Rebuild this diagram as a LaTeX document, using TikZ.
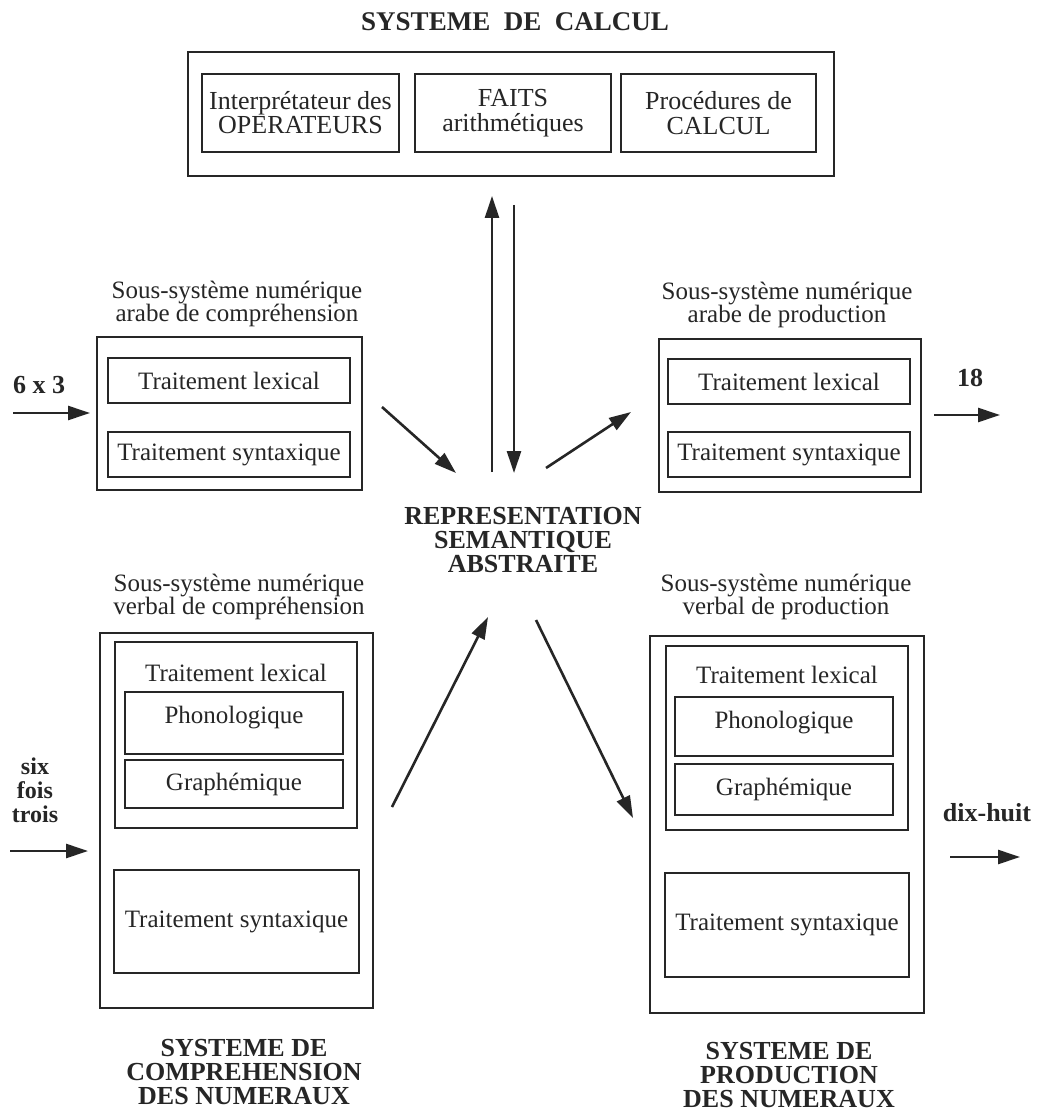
\documentclass[tikz,border=0pt]{standalone}
\usepackage{fontspec}
\setmainfont{Liberation Serif}
\usetikzlibrary{arrows.meta}
\definecolor{ink}{HTML}{262626}
\newcommand\regfont{\fontsize{12.5}{11.5}\selectfont}
\newcommand\boldfont{\fontsize{13}{12.2}\selectfont\bfseries}
\begin{document}
\begin{tikzpicture}[x=0.5pt,y=-0.5pt,
  box/.style={draw=ink, line width=1.3pt, inner sep=0pt, align=center, font=\regfont, text=ink},
  lbl/.style={align=center, font=\regfont, text=ink, inner sep=0pt},
  blbl/.style={align=center, font=\boldfont, text=ink, inner sep=0pt},
  arr/.style={draw=ink, line width=1.3pt, -{Triangle[length=11pt,width=7pt]}}]
\useasboundingbox (0,0) rectangle (1037,1112);
\fill[white] (0,0) rectangle (1037,1112);

% ---- Systeme de calcul
\node[blbl, font=\fontsize{13.5}{13}\selectfont\bfseries] (tcalc) at (515,22) {SYSTEME\hspace{0.5em}DE\hspace{0.5em}CALCUL};
\node[box, minimum width=323pt, minimum height=62pt] (calc) at (511,114) {};
\node[box, font=\fontsize{13}{12}\selectfont, minimum width=98.5pt, minimum height=39pt] (interp) at (300.5,113) {Interprétateur des\\OPERATEURS};
\node[box, font=\fontsize{13}{12.5}\selectfont, minimum width=98pt, minimum height=39pt] (faits) at (513,113) {FAITS\\arithmétiques};
\node[box, font=\fontsize{13}{12.5}\selectfont, minimum width=97.5pt, minimum height=39pt] (proc) at (718.5,113) {Procédures de\\CALCUL};

% ---- Representation semantique abstraite
\node[blbl, font=\fontsize{13}{12}\selectfont\bfseries] (rsa) at (523,540) {REPRESENTATION\\SEMANTIQUE\\ABSTRAITE};

% ---- arabe comprehension
\node[lbl] (lAC) at (237,304) {Sous-système numérique\\arabe de compréhension};
\node[box, minimum width=132.5pt, minimum height=76.5pt] (AC) at (229.5,413.5) {};
\node[box, minimum width=121pt, minimum height=22.5pt] (AClex) at (229,380.5) {Traitement lexical};
\node[box, minimum width=121pt, minimum height=22.5pt] (ACsyn) at (229,454.5) {Traitement syntaxique};
\node[blbl] (in1) at (39,385) {6 x 3};

% ---- arabe production
\node[lbl] (lAP) at (787,305) {Sous-système numérique\\arabe de production};
\node[box, minimum width=131pt, minimum height=76.5pt] (AP) at (790,415.5) {};
\node[box, minimum width=121pt, minimum height=22.5pt] (APlex) at (789,381.5) {Traitement lexical};
\node[box, minimum width=121pt, minimum height=22.5pt] (APsyn) at (789,454.5) {Traitement syntaxique};
\node[blbl] (out1) at (970,378) {18};

% ---- verbal comprehension
\node[lbl] (lVC) at (239,597) {Sous-système numérique\\verbal de compréhension};
\node[box, minimum width=136.5pt, minimum height=187.5pt] (VC) at (236.5,820.5) {};
\node[box, minimum width=121pt, minimum height=93pt] (VClex) at (236,735) {};
\node[lbl] (VClext) at (236,673) {Traitement lexical};
\node[box, minimum width=109pt, minimum height=31pt, text depth=8pt] (VCpho) at (234,723) {Phonologique};
\node[box, minimum width=109pt, minimum height=24pt] (VCgra) at (234,784) {Graphémique};
\node[box, minimum width=122.5pt, minimum height=51.5pt] (VCsyn) at (236.5,921.5) {Traitement syntaxique};
\node[blbl] (tVC) at (244,1072) {SYSTEME DE\\COMPREHENSION\\DES NUMERAUX};
\node[blbl, font=\fontsize{12}{12}\selectfont\bfseries] (in2) at (35,790) {six\\fois\\trois};

% ---- verbal production
\node[lbl] (lVP) at (786,597) {Sous-système numérique\\verbal de production};
\node[box, minimum width=137pt, minimum height=188.5pt] (VP) at (787,824.5) {};
\node[box, minimum width=121pt, minimum height=92pt] (VPlex) at (787,738) {};
\node[lbl] (VPlext) at (787,675) {Traitement lexical};
\node[box, minimum width=109pt, minimum height=29.5pt, text depth=7pt] (VPpho) at (784,726.5) {Phonologique};
\node[box, minimum width=109pt, minimum height=25.5pt] (VPgra) at (784,789.5) {Graphémique};
\node[box, minimum width=122pt, minimum height=52pt] (VPsyn) at (787,925) {Traitement syntaxique};
\node[blbl] (tVP) at (789,1075) {SYSTEME DE\\PRODUCTION\\DES NUMERAUX};
\node[blbl] (out2) at (987,813) {dix-huit};

% ---- connector end points
\coordinate (upS) at (492,472);
\coordinate (upE) at (492,196);
\coordinate (dnS) at (514,205);
\coordinate (dnE) at (514,473);
\coordinate (i1S) at (13,413);
\coordinate (i1E) at (90,413);
\coordinate (o1S) at (934,415);
\coordinate (o1E) at (1000,415);
\coordinate (i2S) at (10,851);
\coordinate (i2E) at (88,851);
\coordinate (o2S) at (950,857);
\coordinate (o2E) at (1020,857);
\coordinate (d1S) at (382,407);
\coordinate (d1E) at (456,473);
\coordinate (d2S) at (546,468);
\coordinate (d2E) at (631,412);
\coordinate (d3S) at (392,807);
\coordinate (d3E) at (488,617);
\coordinate (d4S) at (536,620);
\coordinate (d4E) at (633,818);

\draw[arr] (upS) -- (upE);
\draw[arr] (dnS) -- (dnE);
\draw[arr] (i1S) -- (i1E);
\draw[arr] (o1S) -- (o1E);
\draw[arr] (i2S) -- (i2E);
\draw[arr] (o2S) -- (o2E);
\draw[arr] (d1S) -- (d1E);
\draw[arr] (d2S) -- (d2E);
\draw[arr] (d3S) -- (d3E);
\draw[arr] (d4S) -- (d4E);
\end{tikzpicture}
\end{document}
